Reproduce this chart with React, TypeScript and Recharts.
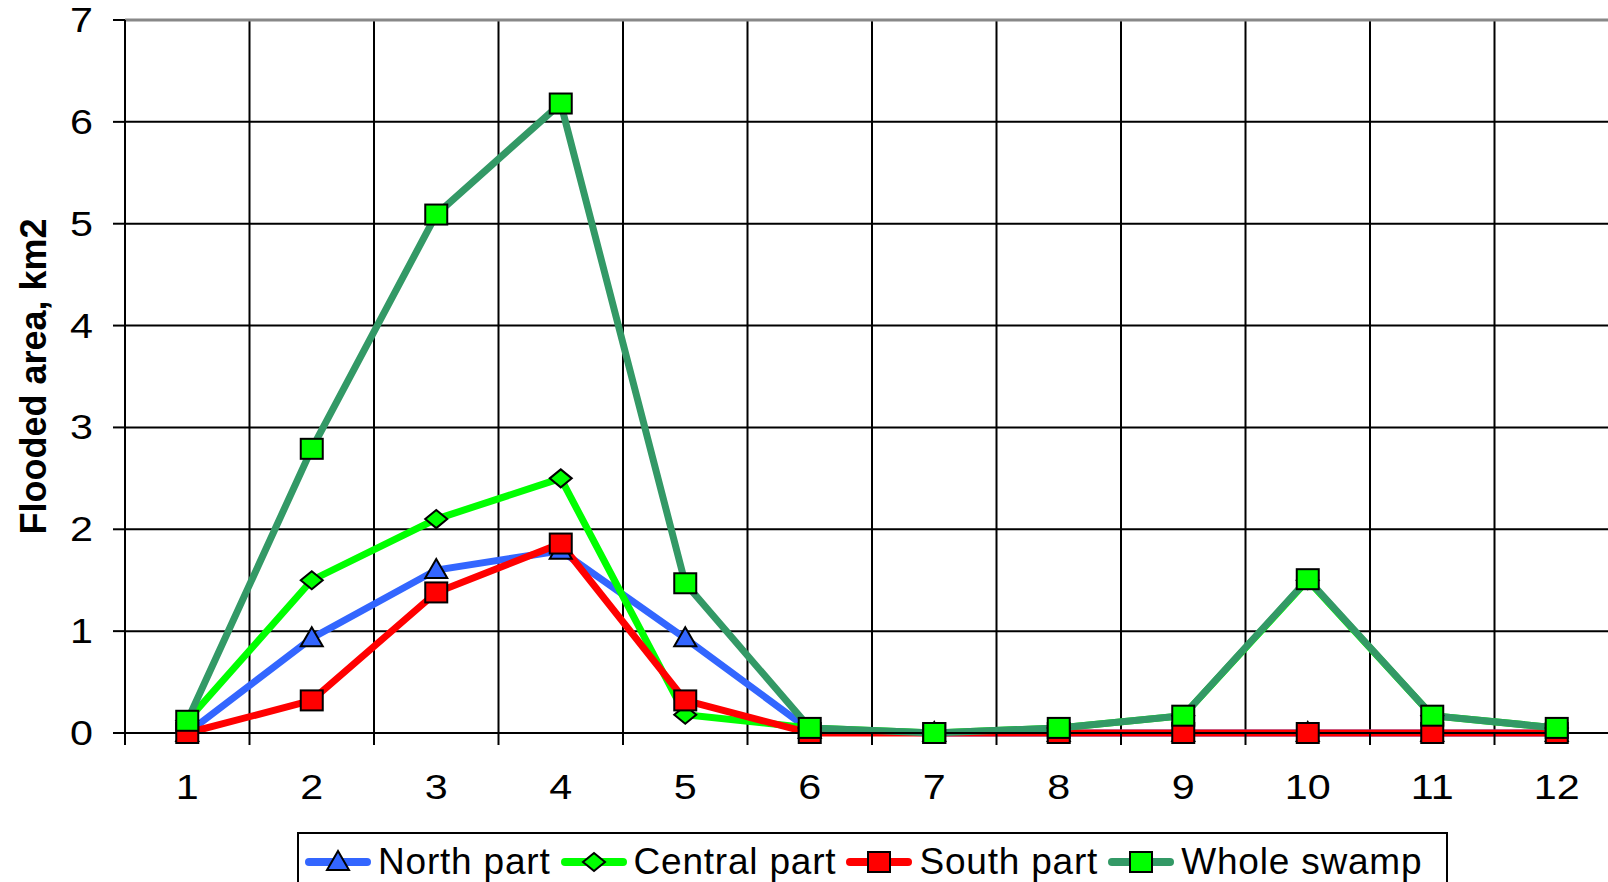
import React from 'react';
import {
  LineChart,
  Line,
  XAxis,
  YAxis,
  CartesianGrid,
  ReferenceLine,
} from 'recharts';

const months = [1, 2, 3, 4, 5, 6, 7, 8, 9, 10, 11, 12];
const northPart = [0, 0.93, 1.6, 1.79, 0.93, 0.03, 0, 0, 0, 0, 0, 0];
const centralPart = [0.12, 1.5, 2.1, 2.5, 0.18, 0.05, 0, 0.05, 0.17, 1.5, 0.17, 0.05];
const southPart = [0, 0.32, 1.38, 1.86, 0.32, 0, 0, 0, 0, 0, 0, 0];
const wholeSwamp = [0.12, 2.79, 5.09, 6.18, 1.47, 0.05, 0, 0.05, 0.17, 1.51, 0.17, 0.05];
const yTicks = [0, 1, 2, 3, 4, 5, 6, 7];
// category edges, used for the vertical grid and the small tick marks
const monthEdges = [0.5, 1.5, 2.5, 3.5, 4.5, 5.5, 6.5, 7.5, 8.5, 9.5, 10.5, 11.5, 12.5];

const data = months.map((m, i) => ({
  month: m,
  north: northPart[i],
  central: centralPart[i],
  south: southPart[i],
  whole: wholeSwamp[i],
}));

const FONT = '"Liberation Sans", Arial, sans-serif';
const STRETCH = 1.18;

const stretchAt = (x: number) => `translate(${x} 0) scale(${STRETCH} 1) translate(${-x} 0)`;

const XTick = ({ x, y, payload }: any) => (
  <text x={x} y={y + 54} textAnchor="middle" fontSize={35} fontFamily={FONT} fill="#000" transform={stretchAt(x)}>
    {payload.value}
  </text>
);

const YTick = ({ x, y, payload }: any) => (
  <text x={x} y={y + 12} textAnchor="end" fontSize={35} fontFamily={FONT} fill="#000" transform={stretchAt(x)}>
    {payload.value}
  </text>
);

const Empty = () => <g />;

const triangle = (cx: number, cy: number, fill: string) => (
  <polygon
    points={`${cx},${cy - 11} ${cx + 11},${cy + 8} ${cx - 11},${cy + 8}`}
    fill={fill}
    stroke="#000"
    strokeWidth={2}
  />
);

const diamond = (cx: number, cy: number, fill: string) => (
  <polygon
    points={`${cx},${cy - 9} ${cx + 11},${cy} ${cx},${cy + 9} ${cx - 11},${cy}`}
    fill={fill}
    stroke="#000"
    strokeWidth={2}
  />
);

const square = (cx: number, cy: number, fill: string) => (
  <rect x={cx - 11} y={cy - 10} width={22} height={20} fill={fill} stroke="#000" strokeWidth={2} />
);

const NorthDot = (p: any) => <g key={`n-${p.index}`}>{triangle(p.cx, p.cy, '#3366FF')}</g>;
const CentralDot = (p: any) => <g key={`c-${p.index}`}>{diamond(p.cx, p.cy, '#00FF00')}</g>;
const SouthDot = (p: any) => <g key={`s-${p.index}`}>{square(p.cx, p.cy, '#FF0000')}</g>;
const WholeDot = (p: any) => <g key={`w-${p.index}`}>{square(p.cx, p.cy, '#00FF00')}</g>;

const legendItems = [
  { name: 'North part', line: '#3366FF', marker: triangle, fill: '#3366FF' },
  { name: 'Central part', line: '#00FF00', marker: diamond, fill: '#00FF00' },
  { name: 'South part', line: '#FF0000', marker: square, fill: '#FF0000' },
  { name: 'Whole swamp', line: '#339966', marker: square, fill: '#00FF00' },
];

const ChartLegend = () => (
  <div
    style={{
      position: 'absolute',
      left: 297,
      top: 832,
      width: 1151,
      height: 80,
      boxSizing: 'border-box',
      border: '2px solid #000',
      display: 'flex',
      alignItems: 'flex-start',
      paddingLeft: 6,
      paddingTop: 6,
      fontFamily: FONT,
      fontSize: 37,
      letterSpacing: 0.8,
      color: '#000',
      whiteSpace: 'nowrap',
      overflow: 'hidden',
    }}
  >
    {legendItems.map((item) => (
      <div
        key={item.name}
        style={{ display: 'flex', alignItems: 'center', marginRight: 10, height: 44, flexShrink: 0 }}
      >
        <svg width={66} height={30} style={{ marginRight: 7, flexShrink: 0 }}>
          <line x1={4} y1={15} x2={62} y2={15} stroke={item.line} strokeWidth={8} strokeLinecap="round" />
          {item.marker(33, 15, item.fill)}
        </svg>
        <span style={{ whiteSpace: 'nowrap' }}>{item.name}</span>
      </div>
    ))}
  </div>
);

const App = () => {
  return (
    <div
      style={{
        position: 'absolute',
        left: 0,
        top: 0,
        width: 1608,
        height: 882,
        overflow: 'hidden',
        background: '#fff',
      }}
    >
      <LineChart width={1640} height={882} data={data} margin={{ top: 20, right: 21, left: 0, bottom: 136 }}>
        <XAxis
          xAxisId="edges"
          type="number"
          dataKey="month"
          domain={[0.5, 12.5]}
          ticks={monthEdges}
          interval={0}
          height={12}
          tickSize={12}
          tick={<Empty />}
          tickLine={{ stroke: '#000', strokeWidth: 2 }}
          axisLine={{ stroke: '#000', strokeWidth: 2 }}
        />
        <XAxis
          xAxisId="labels"
          type="number"
          dataKey="month"
          domain={[0.5, 12.5]}
          ticks={months}
          interval={0}
          height={1}
          tickSize={0}
          tickMargin={0}
          tick={<XTick />}
          tickLine={false}
          axisLine={false}
        />
        <YAxis
          type="number"
          domain={[0, 7]}
          ticks={yTicks}
          interval={0}
          width={125}
          tickSize={12}
          tickMargin={20}
          tick={<YTick />}
          tickLine={{ stroke: '#000', strokeWidth: 2 }}
          axisLine={{ stroke: '#000', strokeWidth: 2 }}
          label={({ viewBox }: any) => (
            <text
              x={viewBox.x + 33}
              y={viewBox.y + viewBox.height / 2}
              transform={`rotate(-90 ${viewBox.x + 33} ${viewBox.y + viewBox.height / 2})`}
              textAnchor="middle"
              dominantBaseline="central"
              fontFamily={FONT}
              fontWeight="bold"
              fontSize={36}
              fill="#000"
            >
              Flooded area, km2
            </text>
          )}
        />
        <CartesianGrid xAxisId="edges" vertical={false} stroke="#000" strokeWidth={2} />
        <CartesianGrid xAxisId="edges" horizontal={false} stroke="#000" strokeWidth={2} />
        <ReferenceLine xAxisId="edges" y={7} stroke="#888" strokeWidth={3} />
        <Line
          xAxisId="edges"
          dataKey="north"
          stroke="#3366FF"
          strokeWidth={7}
          dot={NorthDot}
          activeDot={false}
          isAnimationActive={false}
        />
        <Line
          xAxisId="edges"
          dataKey="central"
          stroke="#00FF00"
          strokeWidth={7}
          dot={CentralDot}
          activeDot={false}
          isAnimationActive={false}
        />
        <Line
          xAxisId="edges"
          dataKey="south"
          stroke="#FF0000"
          strokeWidth={7}
          dot={SouthDot}
          activeDot={false}
          isAnimationActive={false}
        />
        <Line
          xAxisId="edges"
          dataKey="whole"
          stroke="#339966"
          strokeWidth={7}
          dot={WholeDot}
          activeDot={false}
          isAnimationActive={false}
        />
      </LineChart>
      <ChartLegend />
    </div>
  );
};

export default App;
